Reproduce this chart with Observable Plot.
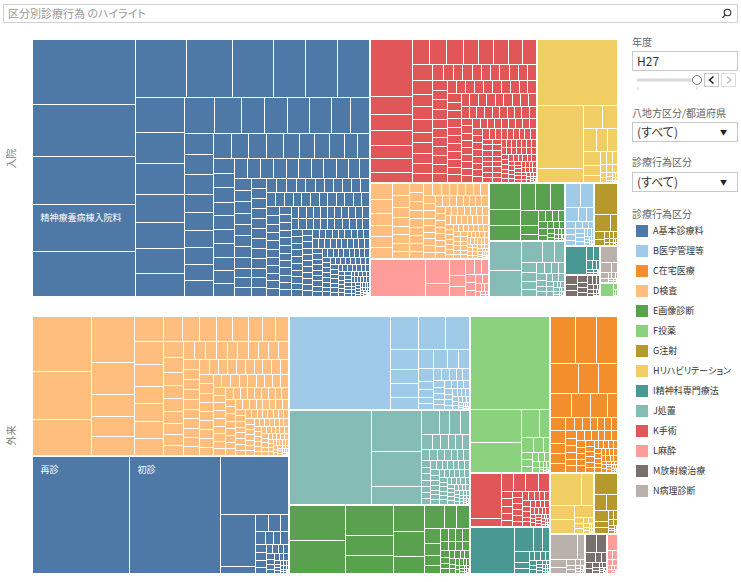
<!DOCTYPE html>
<html><head><meta charset="utf-8">
<script src="https://cdn.jsdelivr.net/npm/d3@7"></script>
<script src="https://cdn.jsdelivr.net/npm/@observablehq/plot@0.6"></script>
<style>
body{margin:0;background:#fff;font-family:"Noto Sans CJK JP","Noto Sans",sans-serif;font-feature-settings:"palt";}
#page{position:relative;width:741px;height:582px;overflow:hidden;background:#fff;}
#chart{position:absolute;left:0;top:0;}
.abs{position:absolute;white-space:nowrap;}
.search{left:3px;top:4px;width:733px;height:17px;border:1px solid #d0d0d0;background:#fff;}
.search .ph{position:absolute;left:4px;top:0;font-size:11px;line-height:17px;color:#9a9a9a;}
.title{left:632px;font-size:10px;line-height:12px;color:#666;}
.box{left:632px;width:104px;height:18px;border:1px solid #c8c8c8;background:#fff;}
.box .val{position:absolute;left:4px;top:0;font-size:12px;line-height:18px;color:#333;}
.box .arr{position:absolute;right:10px;top:0;font-size:7px;line-height:18px;color:#222;}
.leg{left:636px;height:12px;}
.leg .sw{position:absolute;left:0;top:0;width:12px;height:12px;}
.leg .lt{position:absolute;left:17px;top:0;font-size:9px;line-height:12px;color:#333;}
</style></head>
<body><div id="page"><div id="chart"></div></div>
<script>
// ---------------- data ----------------
const panels = ["入院", "外来"];
const categoryCodes = ["A","B","C","D","E","F","G","H","I","J","K","L","M","N"];
const categoryLabels = ["A基本診療料","B医学管理等","C在宅医療","D検査","E画像診断","F投薬","G注射","Hリハビリテーション","I精神科専門療法","J処置","K手術","L麻酔","M放射線治療","N病理診断"];
const categoryColors = ["#4e79a7","#a0cbe8","#f28e2b","#ffbe7d","#59a14f","#8cd17d","#b6992d","#f1ce63","#499894","#86bcb6","#e15759","#ff9d9a","#79706e","#bab0ac"];

// category totals (relative area) per panel, in categoryCodes order
const inpatientTotals  = [86609,1844,0,8968,4408,245,1469,11624,1047,4218,23821,4425,763,648];
const outpatientTotals = [29952,16900,10574,35584,12400,12370,1452,2662,3720,16850,4320,455,845,1420];

// leaf (診療行為) sizes within each category — inpatient
const in_A = [6700,5350,4950,4800,4600,2900,2700,2350,1850,1850,1850,1650,1500,1500,1350,1250,1200,1100,1100,950,840,840,780,780,690,690,600,590,580,520,500,500,500,470,460,450,425,425,425,400,375,375,350,325,
308,301,296,290,287,284,281,279,276,271,263,257,254,251,248,246,243,242,239,237,211,204,201,197,194,191,189,188,185,183,
161,157,152,149,148,146,144,141,140,137,158,154,151,150,147,145,142,141,138,136,132,129,127,124,123,121,118,117,115,112,
129,128,125,124,121,120,118,115,114,111,107,104,101,100,98,96,94,93,90,88,104,103,100,99,97,94,93,90,89,86,
86,85,83,83,82,80,80,78,78,77,84,84,83,81,81,80,78,78,77,75,75,73,73,72,70,70,69,67,67,66,74,72,72,71,69,69,68,66,66,65,
64,63,61,61,60,58,58,57,55,55,62,62,61,59,59,58,56,56,55,53,54,52,52,51,49,49,48,46,46,45,53,51,51,50,48,48,47,45,45,44,
44,42,42,41,39,39,38,36,36,35,43,41,41,40,38,38,37,35,35,34,34,32,32,31,29,29,28,26,26,25,33,31,31,30,28,28,27,25,25,24,
24,22,22,21,19,19,18,16,16,15,23,21,21,20,18,18,17,15,15,14,13,12,11,10,9,8,7,6,5,4,12,11,10,9,8,7,6,5,4,3,3,3,2,2,2,1,1,1,1,1];
const in_B = [330,305,170,110,95,70,62,58,50,45,42,40,36,32,30,28,25,22,20,18,15,12,10,8,6,5,4,3,2];
const in_C = [];
const in_D = [340,320,260,250,245,240,210,190,170,150,145,143,135,130,128,125,122,120,118,115,112,110,108,105,102,100,98,95,92,90,88,88,86,84,82,80,78,77,77,77,77,76,74,72,70,68,66,66,66,66,64,
62,61,60,59,58,57,56,55,54,53,52,51,50,49,48,47,46,45,45,44,44,43,42,42,41,40,40,39,38,38,37,36,36,35,34,34,33,32,32,31,30,30,29,28,28,27,26,26,25,25,24,24,23,23,22,22,21,21,20,20,19,19,18,18,17,17,16,15,14,13,12,11,10,9,8,7,6,5,4,3,2,2,1,1,1];
const in_E = [720,450,420,364,338,338,240,150,100,70,66,60,60,55,50,45,40,35,30,28,25,22,20,18,15,12,10,8,6,5,4,3,2];
const in_F = [169,30,15,10,5];
const in_G = [682,255,120,72,50,40,30,25,20,15,12,10,8,6,5,4,3,2];
const in_H = [5056,2835,630,432,336,288,240,216,209,152,114,77,70,60,50,45,40,35,30,25,20,15,12,10,8,6,4,3,2,1];
const in_I = [616,100,95,50,40,30,20,15,10,8,6,4,3,2];
const in_J = [812,725,400,210,190,130,120,110,100,75,70,65,60,55,50,45,42,40,38,35,32,30,28,25,22,20,18,15,12,10,8,6,5,4,3,2,1];
const in_K = [1890,590,520,480,445,445,335,335,330,330,310,286,286,286,264,264,220,204,204,204,170,170,170,153,153,136,119,119,
118,117,116,115,115,114,114,113,112,112,111,110,108,106,105,104,103,102,101,100,99,98,97,96,95,95,94,93,92,91,90,90,89,88,87,86,86,85,84,84,83,82,82,81,80,79,78,77,77,76,75,74,73,72,72,71,70,69,68,68,67,66,66,65,64,64,63,62,62,61,60,60,
59,58,57,57,56,56,55,54,54,53,52,52,51,50,50,49,48,47,47,46,46,45,44,44,43,42,42,41,40,40,39,38,38,37,37,36,35,35,34,34,33,33,32,32,31,31,30,30,29,29,28,28,28,27,27,26,26,25,25,24,24,23,23,23,22,22,21,21,20,20,19,19,18,18,18,17,17,16,16,15,15,14,14,13,13,13,12,11,10,9,8,7,6,5,4,3,2,1,1];
const in_L = [1890,530,290,240,155,150,120,100,90,80,70,60,50,45,40,30,25,20,15,10,8,5];
const in_M = [110,90,80,72,60,50,45,40,40,35,30,25,20,18,15,12,10,8,6,5,4,3,2,1];
const in_N = [256,100,60,40,30,25,20,15,10,8,6,5,3,2];

// leaf sizes within each category — outpatient
const out_A = [11200,10556,3886,1800,252,209,200,140,110,100,95,90,85,80,70,65,60,55,50,45,42,40,38,35,32,30,28,25,22,20,18,16,14,12,10,9,8,7,6,5,4,3,2,2,1,1];
const out_B = [8924,896,864,736,532,364,364,336,266,247,190,190,187,130,110,95,90,88,85,80,75,72,70,65,60,58,55,52,50,48,45,42,40,38,36,34,32,30,28,26,24,22,20,18,16,14,12,10,9,8,7,6,5,4,3,2,1];
const out_C = [1128,987,940,837,589,558,480,432,384,216,204,187,153,153,120,119,110,100,95,90,90,85,80,80,75,73,70,70,66,65,62,60,60,58,55,54,52,50,50,48,46,45,44,42,42,40,40,38,38,36,34,34,32,30,30,28,28,26,26,24,22,20,19,18,17,16,15,14,13,12,11,10,9,8,7,6,5,4,3,2,1];
const out_D = [3132,2726,2030,1892,1333,903,860,774,696,638,609,493,493,493,464,442,416,416,390,390,338,312,312,304,285,247,247,247,228,228,209,187,185,183,180,178,176,175,172,170,
165,162,160,158,155,152,150,148,145,142,140,138,135,135,132,132,130,128,128,125,125,122,122,120,118,118,115,115,112,112,110,108,108,105,105,102,100,100,98,97,96,94,94,92,91,90,88,88,86,85,84,82,82,80,79,78,76,76,74,73,72,70,70,68,68,66,66,65,64,64,62,62,60,60,58,58,57,56,56,54,54,52,52,50,50,48,48,47,46,46,45,44,44,43,42,42,41,40,40,39,38,38,37,36,36,35,34,34,33,32,32,31,30,30,29,28,28,27,26,26,25,24,24,23,22,22,21,20,20,19,18,18,17,16,16,15,14,14,13,12,12,11,10,9,8,7,6,5,4,3,2,1];
const out_E = [1836,1674,1363,893,799,750,690,480,425,275,275,210,182,140,120,96,84,80,75,70,65,60,56,52,48,45,42,40,38,35,32,30,28,26,24,22,20,18,16,14,12,10,9,8,7,6,5,4,3,2,1];
const out_F = [7084,1632,1479,500,252,180,144,80,80,72,60,50,45,40,35,30,25,20,16,12,10,8,6,4,3,2,1];
const out_G = [440,176,160,144,84,72,40,30,25,20,15,12,10,8,6,4,3,2,1];
const out_H = [900,350,300,300,210,50,42,35,30,25,20,16,12,10,8,6,4,3,2,1];
const out_I = [1845,414,180,156,156,80,60,50,45,40,36,32,28,25,22,20,18,16,14,12,10,9,8,7,6,5,4,3,2,1];
const out_J = [7462,1938,1683,867,432,240,240,210,165,120,110,105,100,95,90,85,80,70,65,63,62,60,60,58,58,56,55,54,52,52,50,50,48,48,46,46,44,43,42,42,41,40,40,39,38,38,37,36,35,34,34,33,32,32,31,30,30,29,28,28,27,26,26,25,24,24,22,20,19,18,17,16,15,14,13,12,11,10,9,8,7,6,5,4,3,2,2,1,1];
const out_K = [1232,216,198,198,196,180,77,77,70,66,62,60,58,56,54,52,50,48,46,44,42,40,38,36,34,32,30,29,28,27,26,25,24,23,22,21,20,19,18,17,16,15,14,13,12,11,10,9,8,7,6,5,4,3,2,1];
const out_L = [168,49,40,30,25,20,16,12,10,8,6,4,3,2,1];
const out_M = [168,154,88,50,40,32,28,24,20,16,14,12,10,8,6,5,4,3,2,1];
const out_N = [600,175,112,80,42,35,30,25,20,15,12,10,8,6,5,4,3,2,1];

// labelled leaves: panel, category, index in the category array, text
const labelPanels = ["入院","外来","外来"];
const labelCats = ["A","A","A"];
const labelIndex = [3,0,1];
const labelNames = ["精神療養病棟入院料","再診","初診"];

// ---------------- build ----------------
const inpatientLeaves = {A:in_A,B:in_B,C:in_C,D:in_D,E:in_E,F:in_F,G:in_G,H:in_H,I:in_I,J:in_J,K:in_K,L:in_L,M:in_M,N:in_N};
const outpatientLeaves = {A:out_A,B:out_B,C:out_C,D:out_D,E:out_E,F:out_F,G:out_G,H:out_H,I:out_I,J:out_J,K:out_K,L:out_L,M:out_M,N:out_N};

const W = 584, H = 256;
const tileTop = d3.treemapSquarify.ratio(1.7);
const tileLeaf = d3.treemapSquarify; // golden ratio
const tile = (node, x0, y0, x1, y1) => (node.depth === 0 ? tileTop : tileLeaf)(node, x0, y0, x1, y1);

function layoutPanel(panel, totals, leaves) {
  const children = categoryCodes.map((c, i) => ({cat: c, total: totals[i], w: leaves[c]}))
    .filter(d => d.total > 0 && d.w.length)
    .map(d => {
      const s = d3.sum(d.w);
      return {cat: d.cat, children: d.w.map((w, j) => ({cat: d.cat, idx: j, value: d.total * w / s}))};
    });
  const root = d3.hierarchy({children})
    .sum(d => d.value)
    .sort((a, b) => b.value - a.value);
  d3.treemap()
    .size([W, H])
    .tile(tile)
    .paddingInner(d => d.depth === 0 ? 2 : 1)
    .round(true)(root);
  return root.leaves().map(l => {
    let name = null;
    labelNames.forEach((n, k) => {
      if (labelPanels[k] === panel && labelCats[k] === l.data.cat && labelIndex[k] === l.data.idx) name = n;
    });
    return {panel, cat: l.data.cat, x0: l.x0, x1: l.x1, y0: l.y0, y1: l.y1, name};
  });
}

const cells = [
  ...layoutPanel("入院", inpatientTotals, inpatientLeaves),
  ...layoutPanel("外来", outpatientTotals, outpatientLeaves)
].filter(c => c.x1 > c.x0 && c.y1 > c.y0);
const named = cells.filter(c => c.name);

const font = "'Noto Sans CJK JP', 'Noto Sans', sans-serif";
const chart = Plot.plot({
  width: 620,
  height: 578,
  marginLeft: 33,
  marginRight: 3,
  marginTop: 40,
  marginBottom: 5,
  style: {fontFamily: font, background: "transparent"},
  x: {domain: [0, W], axis: null},
  y: {domain: [0, H], axis: null, reverse: true},
  fy: {domain: panels, axis: null, paddingInner: 21 / 277, paddingOuter: 0, round: false},
  color: {domain: categoryCodes, range: categoryColors},
  marks: [
    Plot.rect(cells, {x1: "x0", x2: "x1", y1: "y0", y2: "y1", fy: "panel", fill: "cat"}),
    Plot.text(named, {x: "x0", y: "y0", fy: "panel", text: "name", dx: 7, dy: 13, textAnchor: "start", fill: "white", fontSize: 9, fontFamily: font}),
    Plot.text(panels, {fy: d => d, text: d => d, frameAnchor: "left", dx: -22, rotate: -90, fill: "#808080", fontSize: 10, fontFamily: font})
  ]
});
document.getElementById("chart").appendChild(chart);

// ---------------- side controls & legend (HTML) ----------------
const page = document.getElementById("page");
function add(html) { page.insertAdjacentHTML("beforeend", html); }

add(`<div class="abs search"><span class="ph">区分別診療行為 のハイライト</span>
<svg style="position:absolute;right:5px;top:3px" width="11" height="11"><circle cx="6.5" cy="4.5" r="3.3" fill="none" stroke="#333" stroke-width="1.1"/><line x1="4.2" y1="6.8" x2="1.5" y2="9.8" stroke="#333" stroke-width="1.2"/></svg></div>`);

add(`<div class="abs title" style="top:36px">年度</div>`);
add(`<div class="abs box" style="top:51px"><span class="val">H27</span></div>`);
add(`<svg class="abs" style="left:632px;top:72px" width="108" height="20">
<line x1="5" y1="8" x2="62" y2="8" stroke="#d9d9d9" stroke-width="3"/>
<line x1="6" y1="15" x2="6" y2="18" stroke="#ccc"/><line x1="65" y1="15" x2="65" y2="18" stroke="#ccc"/>
<circle cx="65" cy="8" r="4.5" fill="#fff" stroke="#777" stroke-width="1"/>
<rect x="72.5" y="1.5" width="14" height="13" fill="#fff" stroke="#c8c8c8"/>
<path d="M81.5 4.5 L77.5 8 L81.5 11.5" fill="none" stroke="#222" stroke-width="1.6"/>
<rect x="89.5" y="1.5" width="14" height="13" fill="#fff" stroke="#dcdcdc"/>
<path d="M95 4.5 L99 8 L95 11.5" fill="none" stroke="#bdbdbd" stroke-width="1.4"/>
</svg>`);

add(`<div class="abs title" style="top:107px">八地方区分/都道府県</div>`);
add(`<div class="abs box" style="top:122px"><span class="val">(すべて)</span><span class="arr">▼</span></div>`);
add(`<div class="abs title" style="top:156px">診療行為区分</div>`);
add(`<div class="abs box" style="top:172px"><span class="val">(すべて)</span><span class="arr">▼</span></div>`);
add(`<div class="abs title" style="top:208px">診療行為区分</div>`);

categoryLabels.forEach((lab, i) => {
  add(`<div class="abs leg" style="top:${225 + 20 * i}px"><div class="sw" style="background:${categoryColors[i]}"></div><div class="lt">${lab}</div></div>`);
});
</script>
</body></html>
